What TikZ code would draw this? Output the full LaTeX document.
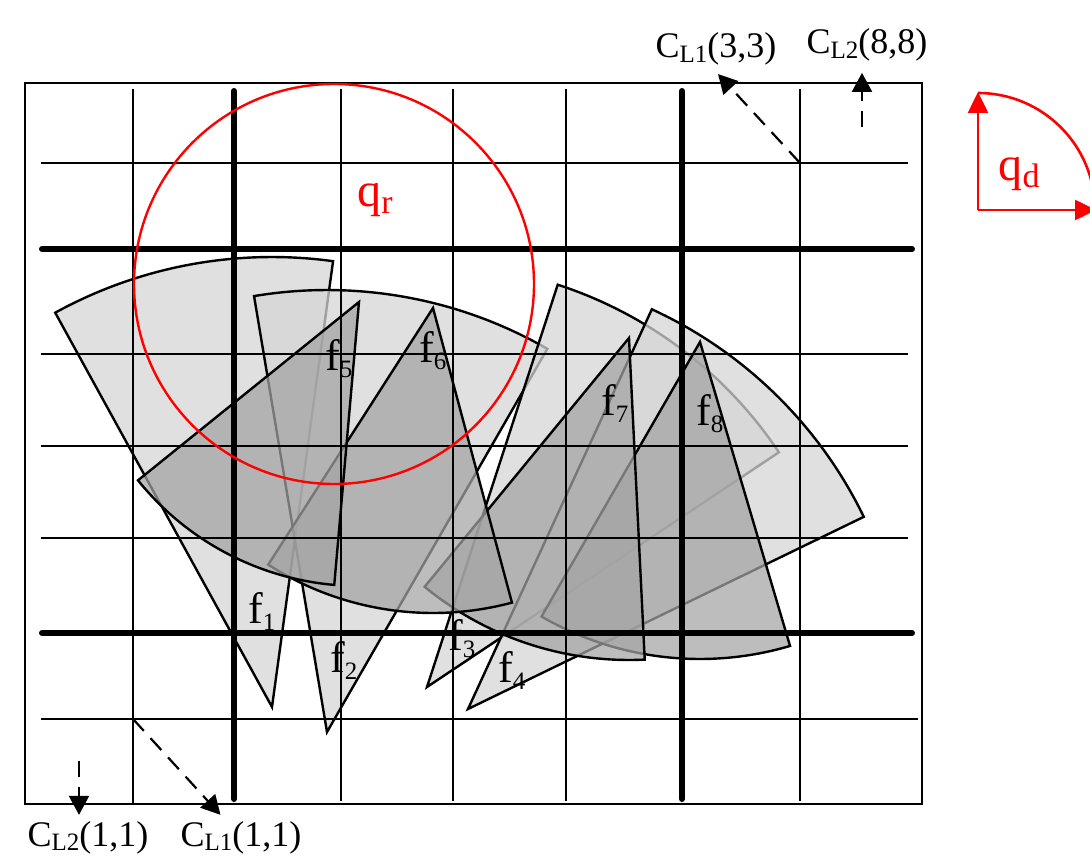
\documentclass[tikz,border=0pt]{standalone}
\usepackage{fontspec}
\setmainfont{Liberation Serif}
\usetikzlibrary{arrows.meta}
\definecolor{fovlight}{gray}{0.835}
\definecolor{fovdark}{gray}{0.643}
\newcommand{\subtxt}[3]{\raisebox{#1}{\fontsize{#2}{#2}\selectfont #3}}
\tikzset{
    gridthin/.style={line width=2.2pt, black},
    gridthick/.style={line width=6pt, black, line cap=round},
    fovL/.style={draw=black, line width=2.4pt, fill=fovlight, fill opacity=0.75},
    fovD/.style={draw=black, line width=2.4pt, fill=fovdark, fill opacity=0.73},
    flabel/.style={anchor=base west, inner sep=0pt, font=\fontsize{44}{44}\selectfont},
    clabel/.style={anchor=base, inner sep=6pt, font=\fontsize{36}{36}\selectfont},
    qlabel/.style={anchor=base, inner sep=0pt, text=red, font=\fontsize{48}{48}\selectfont},
    movearrow/.style={line width=2.2pt, dash pattern=on 16pt off 10pt, -{Triangle[length=19pt,width=20pt]}},
    dirarrow/.style={red, line width=2.6pt, -{Triangle[length=21pt,width=20pt]}},
}

\begin{document}
\begin{tikzpicture}[x=1pt, y=-1pt]
    \useasboundingbox (0,0) rectangle (1090,856);

    % Sector apexes
    \coordinate (a1) at (272,707);
    \coordinate (a2) at (327,732);
    \coordinate (a3) at (427,687);
    \coordinate (a4) at (468,709);
    \coordinate (a5) at (359,302);
    \coordinate (a6) at (433,308);
    \coordinate (a7) at (629,338);
    \coordinate (a8) at (700,342);

    % Upward sectors
    \filldraw[fovL] (a1) -- ++(-118.8:450) arc[start angle=-118.8, end angle=-82.2, radius=450] -- cycle;
    \filldraw[fovL] (a2) -- ++(-99.5:442) arc[start angle=-99.5, end angle=-60.1, radius=442] -- cycle;
    \filldraw[fovL] (a3) -- ++(-72:423) arc[start angle=-72, end angle=-33.7, radius=423] -- cycle;
    \filldraw[fovL] (a4) -- ++(-65.3:440) arc[start angle=-65.3, end angle=-25.9, radius=440] -- cycle;

    % Downward sectors
    \filldraw[fovD] (a8) -- ++(73.5:317) arc[start angle=73.5, end angle=120, radius=317] -- cycle;
    \filldraw[fovD] (a7) -- ++(87.2:322) arc[start angle=87.2, end angle=129.4, radius=322] -- cycle;
    \filldraw[fovD] (a6) -- ++(75:305) arc[start angle=75, end angle=122.7, radius=305] -- cycle;
    \filldraw[fovD] (a5) -- ++(95:284) arc[start angle=95, end angle=141.1, radius=284] -- cycle;

    % Sector labels
    \node[flabel] (f1lbl) at (248,623) {f\subtxt{-7pt}{25}{1}};
    \node[flabel] (f2lbl) at (330,672) {f\subtxt{-7pt}{25}{2}};
    \node[flabel] (f3lbl) at (448,650) {f\subtxt{-7pt}{25}{3}};
    \node[flabel] (f4lbl) at (498,682) {f\subtxt{-7pt}{25}{4}};
    \node[flabel] (f5lbl) at (325,370) {f\subtxt{-7pt}{25}{5}};
    \node[flabel] (f6lbl) at (419,362) {f\subtxt{-7pt}{25}{6}};
    \node[flabel] (f7lbl) at (601,415) {f\subtxt{-7pt}{25}{7}};
    \node[flabel] (f8lbl) at (696,425) {f\subtxt{-7pt}{25}{8}};

    % Grid
    \draw[line width=2.2pt] (25,83) rectangle (922,804);
    \draw[gridthin] (133,89) -- (133,803);
    \draw[gridthin] (341,89) -- (341,801);
    \draw[gridthin] (453,89) -- (453,801);
    \draw[gridthin] (566,89) -- (566,801);
    \draw[gridthin] (800,89) -- (800,801);
    \draw[gridthin] (41,163) -- (908,163);
    \draw[gridthin] (41,354) -- (908,354);
    \draw[gridthin] (41,446) -- (908,446);
    \draw[gridthin] (41,538) -- (908,538);
    \draw[gridthin] (41,719) -- (918,719);
    \draw[gridthick] (234,91) -- (234,799);
    \draw[gridthick] (682,91) -- (682,799);
    \draw[gridthick] (42,249) -- (912,249);
    \draw[gridthick] (42,633) -- (912,633);

    % Sensing range
    \draw[red, line width=2.4pt] (334,284) circle[radius=200];
    \node[qlabel] (qrlbl) at (375,207) {q\subtxt{-6pt}{34}{r}};

    % Direction range
    \coordinate (qd0) at (978,210);
    \draw[dirarrow] (qd0) -- ++(0,-118);
    \draw[dirarrow] (qd0) -- ++(118,0);
    \draw[red, line width=2.6pt] (qd0) ++(0,-117) arc[start angle=-90, end angle=0, radius=117];
    \node[qlabel] (qdlbl) at (1019,180) {q\subtxt{-8pt}{34}{d}};

    % Moves of the cluster heads
    \node[clabel] (cl1t) at (716,58) {C\subtxt{-5pt}{25}{L1}(3,3)};
    \node[clabel] (cl2t) at (867,54) {C\subtxt{-5pt}{25}{L2}(8,8)};
    \node[clabel] (cl2b) at (88,846) {C\subtxt{-4pt}{25}{L2}(1,1)};
    \node[clabel] (cl1b) at (241,846) {C\subtxt{-4pt}{25}{L1}(1,1)};

    \coordinate (g83) at (800,163);
    \coordinate (g88) at (862,127);
    \coordinate (g11) at (133,719);
    \coordinate (g00) at (79,761);
    \draw[movearrow, shorten >=3pt] (g83) -- (cl1t.south);
    \draw[movearrow, shorten >=5pt] (g88) -- (g88 |- cl2t.south);
    \draw[movearrow] (g11) -- (cl1b);
    \draw[movearrow] (g00) -- (g00 |- cl2b.north);
\end{tikzpicture}
\end{document}
